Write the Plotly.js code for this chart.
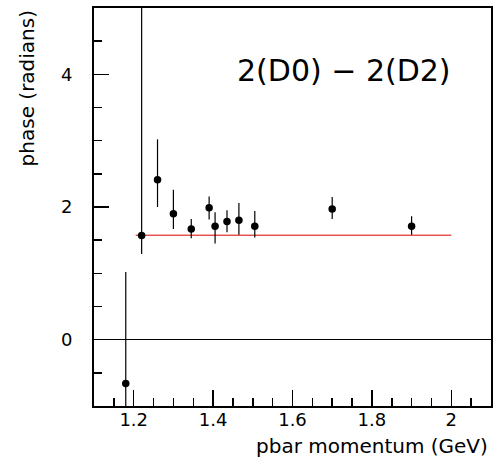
<!DOCTYPE html>
<html>
<head>
<meta charset="utf-8">
<script src="https://cdn.plot.ly/plotly-3.0.1.min.js"></script>
<style>html,body{margin:0;padding:0;background:#fff;}#chart{width:499px;height:468px;}</style>
</head>
<body>
<div id="chart"></div>
<script>
// data
const momentum = [1.18, 1.22, 1.26, 1.30, 1.345, 1.39, 1.405, 1.435, 1.465, 1.505, 1.70, 1.90];
const phase    = [-0.66, 1.57, 2.41, 1.90, 1.67, 1.99, 1.71, 1.78, 1.80, 1.71, 1.97, 1.71];
const errUp    = [1.68, 4.00, 0.61, 0.36, 0.15, 0.17, 0.21, 0.17, 0.26, 0.23, 0.18, 0.15];
const errDown  = [0.60, 0.28, 0.41, 0.23, 0.14, 0.18, 0.26, 0.16, 0.22, 0.17, 0.15, 0.13];
const fitX = [1.205, 2.0];
const fitY = [1.575, 1.575];
const xTickVals = [1.2, 1.4, 1.6, 1.8, 2.0];
const xTickText = ['1.2', '1.4', '1.6', '1.8', '2'];
const yTickVals = [0, 2, 4];
const yTickText = ['0', '2', '4'];
const chartLabel = '2(D0) \u2212 2(D2)';
const xLabel = 'pbar momentum (GeV)';
const yLabel = 'phase (radians)';

const FONT = 'DejaVu Sans, sans-serif';

const traces = [
  {
    x: fitX, y: fitY, type: 'scatter', mode: 'lines',
    line: {color: '#dd0000', width: 1}, hoverinfo: 'skip'
  },
  {
    x: momentum, y: phase, type: 'scatter', mode: 'markers',
    marker: {color: 'black', size: 7.5},
    error_y: {type: 'data', symmetric: false, array: errUp, arrayminus: errDown,
              width: 0, thickness: 1.2, color: 'black'}
  }
];

const axisCommon = {
  ticks: 'inside', tickcolor: 'black', tickwidth: 1.5,
  showline: true, linecolor: 'black', linewidth: 2, mirror: true,
  showgrid: false,
  tickfont: {family: FONT, size: 18, color: 'black'}
};

const layout = {
  width: 499, height: 468,
  margin: {l: 94, r: 8, t: 8, b: 62, pad: 0},
  paper_bgcolor: 'white', plot_bgcolor: 'white',
  showlegend: false,
  xaxis: Object.assign({}, axisCommon, {
    range: [1.1, 2.1], tickmode: 'array', tickvals: xTickVals, ticktext: xTickText,
    ticklen: 16, zeroline: false, ticklabelstandoff: -4,
    minor: {tickmode: 'linear', tick0: 1.1, dtick: 0.05, ticks: 'inside', ticklen: 8,
            tickcolor: 'black', tickwidth: 1.5, showgrid: false}
  }),
  yaxis: Object.assign({}, axisCommon, {
    range: [-1, 5], tickmode: 'array', tickvals: yTickVals, ticktext: yTickText,
    ticklen: 15, zeroline: true, zerolinecolor: 'black', zerolinewidth: 1,
    ticklabelstandoff: 16,
    minor: {tickmode: 'linear', tick0: 0, dtick: 0.5, ticks: 'inside', ticklen: 8,
            tickcolor: 'black', tickwidth: 1.5, showgrid: false}
  }),
  annotations: [
    {text: chartLabel, xref: 'paper', yref: 'paper', x: 0.63, y: 0.842,
     xanchor: 'center', yanchor: 'middle', showarrow: false,
     font: {family: FONT, size: 30, color: 'black'}},
    {text: xLabel, xref: 'paper', yref: 'paper', x: 0.9975, y: -0.1005,
     xanchor: 'right', yanchor: 'middle', showarrow: false,
     font: {family: FONT, size: 20, color: 'black'}},
    {text: yLabel, xref: 'paper', yref: 'paper', x: -0.1688, y: 0.798,
     xanchor: 'center', yanchor: 'middle', showarrow: false, textangle: -90,
     font: {family: FONT, size: 20, color: 'black'}}
  ]
};

Plotly.newPlot('chart', traces, layout, {staticPlot: true, displayModeBar: false});
</script>
</body>
</html>
